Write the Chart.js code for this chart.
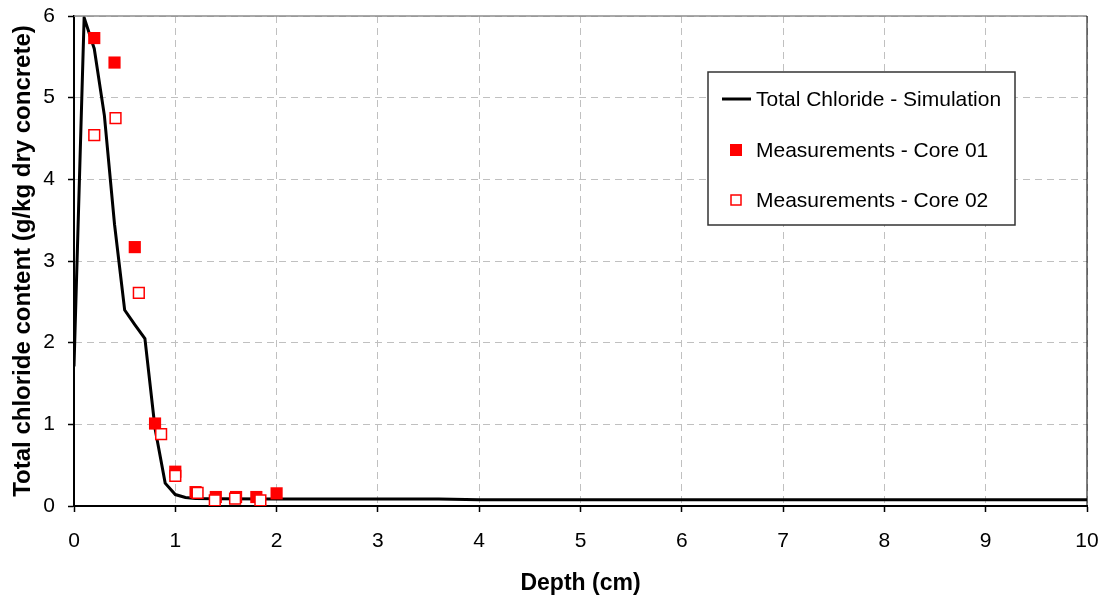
<!DOCTYPE html>
<html>
<head>
<meta charset="utf-8">
<script src="https://cdn.jsdelivr.net/npm/chart.js@4"></script>
<style>
html,body{margin:0;padding:0;background:#fff}
#wrap{width:1107px;height:597px}
</style>
</head>
<body>
<div id="wrap"><canvas id="chlorideChart" width="1107" height="597"></canvas></div>
<script>
// ===== DATA =====
const simDepth = [0, 0.1, 0.2, 0.3, 0.4, 0.5, 0.6, 0.7, 0.8, 0.9, 1.0, 1.1, 1.2, 1.4, 2.0, 3.0, 3.6, 4.0, 6.0, 8.0, 10.0]
const simChloride = [1.71, 5.98, 5.6, 4.78, 3.45, 2.4, 2.22, 2.05, 0.95, 0.28, 0.14, 0.105, 0.092, 0.088, 0.085, 0.085, 0.085, 0.078, 0.077, 0.076, 0.076]

const core01Depth = [0.2, 0.4, 0.6, 0.8, 1.0, 1.2, 1.4, 1.6, 1.8, 2.0]
const core01Chloride = [5.73, 5.43, 3.17, 1.01, 0.42, 0.17, 0.11, 0.11, 0.11, 0.155]

const core02Depth = [0.2, 0.41, 0.64, 0.86, 1.0, 1.22, 1.39, 1.59, 1.84]
const core02Chloride = [4.54, 4.75, 2.61, 0.88, 0.37, 0.16, 0.07, 0.09, 0.07]

const xTicks = [0, 1, 2, 3, 4, 5, 6, 7, 8, 9, 10]
const yTicks = [0, 1, 2, 3, 4, 5, 6]

const seriesNames = ["Total Chloride - Simulation", "Measurements - Core 01", "Measurements - Core 02"]

function toPoints(xs, ys){
return xs.map((x,i)=>({x:x, y:ys[i]}))
}

const FONT = "'Liberation Sans', Arial, sans-serif"
Chart.defaults.font.family = FONT
Chart.defaults.color = "#000"

// ===== PLOT FRAME + LEGEND BOX =====
const framePlugin = {
id:"frame",
afterDraw(chart){
const ctx = chart.ctx
const a = chart.chartArea
ctx.save()
ctx.strokeStyle = "#8c8c8c"
ctx.lineWidth = 1.5
ctx.beginPath()
ctx.moveTo(a.left, a.top)
ctx.lineTo(a.right, a.top)
ctx.stroke()
ctx.strokeStyle = "#000"
ctx.lineWidth = 1
ctx.beginPath()
ctx.moveTo(a.right, a.top)
ctx.lineTo(a.right, a.bottom)
ctx.stroke()
ctx.restore()

// legend box
const bx = 708, by = 72, bw = 307, bh = 153
ctx.save()
ctx.fillStyle = "#fff"
ctx.fillRect(bx, by, bw, bh)
ctx.strokeStyle = "#333"
ctx.lineWidth = 1.5
ctx.strokeRect(bx, by, bw, bh)
ctx.font = "21px " + FONT
ctx.textBaseline = "middle"
ctx.fillStyle = "#000"
const rows = [99, 150, 200]
chart.data.datasets.forEach((ds,i)=>{
const y = rows[i]
if(i === 0){
ctx.strokeStyle = ds.borderColor
ctx.lineWidth = 3
ctx.beginPath()
ctx.moveTo(722, y)
ctx.lineTo(751, y)
ctx.stroke()
}else{
if(ds.pointBackgroundColor !== "#fff"){
ctx.fillStyle = ds.pointBorderColor
ctx.fillRect(730, y-6, 12, 12)
}else{
ctx.strokeStyle = ds.pointBorderColor
ctx.lineWidth = 1.5
ctx.strokeRect(731, y-5, 10, 10)
}
}
ctx.fillStyle = "#000"
ctx.fillText(ds.label, 756, y+1)
})
ctx.restore()
}
}

// ===== CHART =====
new Chart(document.getElementById("chlorideChart"),{
type:"scatter",
data:{
datasets:[
{
label:seriesNames[0],
data:toPoints(simDepth, simChloride),
showLine:true,
borderColor:"#000",
borderWidth:3,
pointRadius:0,
tension:0,
order:2
},
{
label:seriesNames[1],
data:toPoints(core01Depth, core01Chloride),
pointStyle:"rect",
pointRadius:8.6,
pointBackgroundColor:"#ff0000",
pointBorderColor:"#ff0000",
pointBorderWidth:0,
order:1
},
{
label:seriesNames[2],
data:toPoints(core02Depth, core02Chloride),
pointStyle:"rect",
pointRadius:7.6,
pointBackgroundColor:"#fff",
pointBorderColor:"#ff0000",
pointBorderWidth:1.5,
order:0
}
]
},
options:{
responsive:false,
animation:false,
layout:{padding:{top:16, right:20, left:0, bottom:0}},
plugins:{legend:{display:false}, tooltip:{enabled:false}},
scales:{
x:{
type:"linear",
min:0, max:10,
afterBuildTicks(axis){ axis.ticks = xTicks.map(v=>({value:v})) },
afterFit(axis){ axis.height = 91; axis.paddingLeft = 0; axis.paddingRight = 0 },
ticks:{font:{size:21}, padding:17, maxRotation:0},
grid:{color:"#c0c0c0", lineWidth:1, tickLength:6, tickColor:"#000", tickWidth:1.5, tickBorderDash:[]},
border:{display:true, color:"#000", width:2, dash:[7,5]},
title:{display:true, text:"Depth (cm)", font:{size:23, weight:"bold"}, padding:{top:11, bottom:0}}
},
y:{
type:"linear",
min:0, max:6,
afterBuildTicks(axis){ axis.ticks = yTicks.map(v=>({value:v})) },
afterFit(axis){ axis.width = 74; axis.paddingTop = 0; axis.paddingBottom = 0 },
ticks:{font:{size:21}, padding:13},
grid:{color:"#c0c0c0", lineWidth:1, tickLength:6, tickColor:"#000", tickWidth:1.5, tickBorderDash:[]},
border:{display:true, color:"#000", width:2, dash:[7,5]},
title:{display:true, text:"Total chloride content (g/kg dry concrete)", font:{size:24, weight:"bold"}, padding:{top:9, bottom:0}}
}
}
},
plugins:[framePlugin]
})
</script>
</body>
</html>
